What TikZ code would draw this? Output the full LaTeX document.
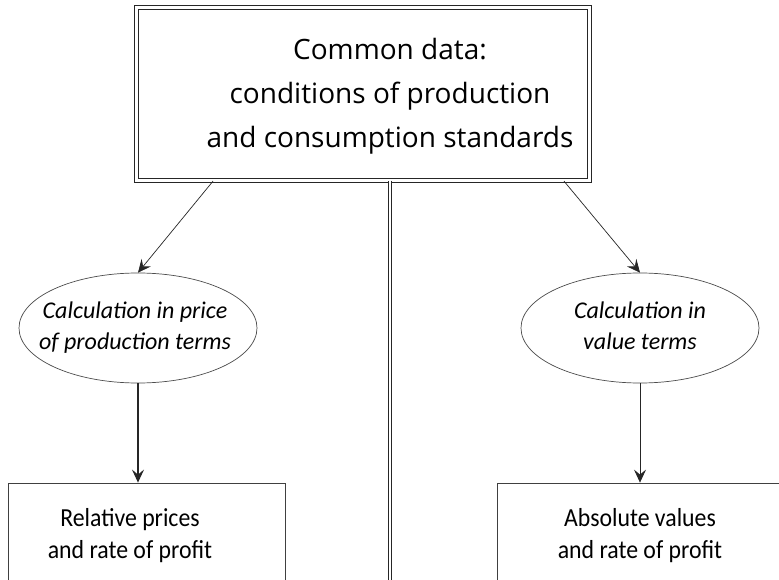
\documentclass[tikz,border=0pt]{standalone}
\usepackage{fontspec}
\newfontfamily\topfont{Open Sans}
\newfontfamily\calfont{Carlito}
\newfontfamily\resfont[FakeStretch=0.915]{Carlito}
\usetikzlibrary{arrows.meta,shapes.geometric}
\tikzset{
  mainbox/.style={draw=black!85, double, double distance=2.6pt, line width=1.3pt,
    minimum width=453pt, minimum height=173pt, inner sep=0pt},
  maintext/.style={align=center, inner sep=0pt, font=\topfont\fontsize{28}{44}\selectfont},
  calcell/.style={ellipse, draw=black!70, line width=0.7pt, minimum width=238pt,
    minimum height=110pt, inner sep=0pt},
  calctext/.style={align=center, inner sep=0pt,
    font=\calfont\itshape\fontsize{24}{31}\selectfont},
  resbox/.style={rectangle, draw=black!75, line width=0.8pt, inner sep=0pt,
    minimum height=104pt},
  restext/.style={align=center, inner sep=0pt, font=\resfont\fontsize{26}{32}\selectfont},
  arr/.style={draw=black!85, line width=0.7pt, -{Stealth[length=13pt,width=12pt,inset=5pt]}},
  thickarr/.style={arr, line width=1.3pt},
  sep/.style={draw=black!85, double, double distance=2.4pt, line width=1.2pt}
}
\begin{document}
\begin{tikzpicture}[x=1pt,y=-1pt]
\useasboundingbox (0,0) rectangle (779,580);
\fill[white] (0,0) rectangle (779,580);
\clip (0,0) rectangle (779,580);
\node[mainbox] (top) at (363,94) {};
\node[maintext] (toptext) at (390,96) {Common data:\\conditions of production\\and consumption standards};
\node[calcell] (lell) at (138,328) {};
\node[calctext] (lelltext) at (135,328) {Calculation in price\\of production terms};
\node[calcell] (rell) at (640,328) {};
\node[calctext] (relltext) at (640,326) {Calculation in\\value terms};
\node[resbox, minimum width=277pt] (lbox) at (146.5,535) {};
\node[restext] (ltext) at (130,536) {Relative prices\\and rate of profit};
\node[resbox, minimum width=303pt] (rbox) at (648.5,535) {};
\node[restext] (rtext) at (640,536) {Absolute values\\and rate of profit};
\coordinate (vtop) at (390,181);
\coordinate (vbot) at (390,590);
\draw[sep] (vtop) -- (vbot);
\draw[arr] ([xshift=-150pt]top.south) -- (lell.north);
\draw[arr] ([xshift=201pt]top.south) -- (rell.north);
\draw[thickarr] (lell.south) -- (lbox.north -| lell.south);
\draw[arr] (rell.south) -- (rbox.north -| rell.south);
\end{tikzpicture}
\end{document}
